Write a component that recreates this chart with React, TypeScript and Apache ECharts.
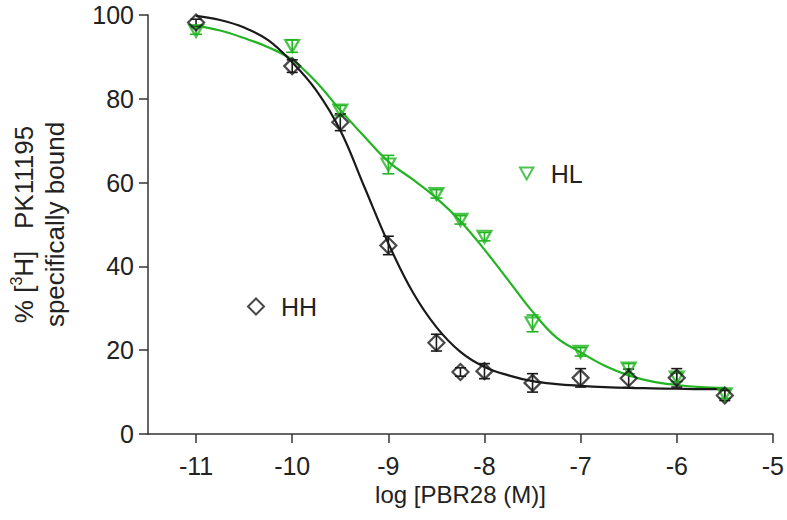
import React, { useEffect, useRef } from "react";
import * as echarts from "echarts";

// measured points (log molar concentration)
const logConc = [-11, -10, -9.5, -9, -8.5, -8.25, -8, -7.5, -7, -6.5, -6, -5.5];
const hhMean = [98.2, 87.8, 74.4, 45.0, 21.8, 14.8, 15.0, 12.2, 13.4, 13.3, 13.4, 9.2];
const hhErr = [0.8, 1.5, 2.0, 2.2, 2.0, 1.0, 1.8, 2.2, 2.2, 2.2, 2.2, 1.2];
const hlMean = [96.2, 92.6, 77.2, 64.3, 57.3, 51.1, 47.1, 26.4, 19.6, 15.6, 13.5, 9.5];
const hlErr = [0.8, 1.5, 1.2, 2.2, 1.0, 1.0, 1.0, 2.0, 1.0, 1.2, 1.0, 1.0];

// fitted curves
const curveX = [-11, -10.75, -10.5, -10.25, -10, -9.75, -9.5, -9.25, -9, -8.75, -8.5, -8.25, -8, -7.75, -7.5, -7.25, -7, -6.75, -6.5, -6.25, -6, -5.75, -5.5];
const hhCurve = [99.8, 98.8, 97.0, 94.0, 88.7, 82.0, 72.5, 59.0, 45.5, 34.0, 25.5, 19.6, 16.0, 14.0, 12.6, 11.9, 11.5, 11.2, 11.0, 10.9, 10.8, 10.7, 10.7];
const hlCurve = [97.4, 96.3, 94.5, 92.3, 89.3, 84.0, 77.3, 71.0, 65.0, 60.8, 56.3, 50.8, 44.0, 36.6, 29.2, 23.0, 19.5, 16.3, 14.0, 12.5, 11.7, 11.2, 11.0];

// axis ticks
const xTicks = [-11, -10, -9, -8, -7, -6, -5];

const BLACK = "#1a1a1a";
const GREEN = "#22b422";
const FONT = "Liberation Sans, Arial, Helvetica, sans-serif";
const TRI = "path://M0,0 L10,0 L5,9 Z";

function errorSeries(name: string, means: number[], errs: number[], color: string, capW: number) {
  return {
    type: "custom",
    name,
    z: 3,
    data: logConc.map((x, i) => [x, means[i] - errs[i], means[i] + errs[i]]),
    renderItem: (params: any, api: any) => {
      const lo = api.coord([api.value(0), api.value(1)]);
      const hi = api.coord([api.value(0), api.value(2)]);
      const st = { stroke: color, lineWidth: 1.6 };
      return {
        type: "group",
        children: [
          { type: "line", shape: { x1: lo[0], y1: lo[1], x2: hi[0], y2: hi[1] }, style: st },
          { type: "line", shape: { x1: lo[0] - capW / 2, y1: lo[1], x2: lo[0] + capW / 2, y2: lo[1] }, style: st },
          { type: "line", shape: { x1: hi[0] - capW / 2, y1: hi[1], x2: hi[0] + capW / 2, y2: hi[1] }, style: st },
        ],
      };
    },
  };
}

export default function App() {
  const ref = useRef<HTMLDivElement>(null);
  useEffect(() => {
    if (!ref.current) return;
    const chart = echarts.init(ref.current, undefined, { renderer: "svg" });
    chart.setOption({
      animation: false,
      backgroundColor: "#ffffff",
      textStyle: { fontFamily: FONT },
      grid: { left: 148, right: 12, top: 15, bottom: 86 },
      legend: [
        {
          data: ["HL"],
          left: 514,
          top: 156,
          itemWidth: 14,
          itemHeight: 12,
          textStyle: { fontSize: 25, color: "#222", fontFamily: FONT, padding: [0, 0, 0, 12] },
        },
        {
          data: ["HH"],
          left: 242,
          top: 289,
          itemWidth: 16,
          itemHeight: 16,
          textStyle: { fontSize: 25, color: "#222", fontFamily: FONT, padding: [0, 0, 0, 12] },
        },
      ],
      xAxis: {
        type: "value",
        min: -11.5,
        max: -5,
        name: "log [PBR28 (M)]",
        nameLocation: "middle",
        nameGap: 48,
        nameTextStyle: { fontSize: 24, color: "#222", fontFamily: FONT },
        axisLine: { lineStyle: { color: "#333", width: 1.5 } },
        axisTick: { show: true, length: 9, inside: false, customValues: xTicks, lineStyle: { color: "#333", width: 1.5 } },
        axisLabel: { customValues: xTicks, fontSize: 25, color: "#222", margin: 19, fontFamily: FONT },
        splitLine: { show: false },
      },
      yAxis: {
        type: "value",
        min: 0,
        max: 100,
        interval: 20,
        name: "{a|% [}{s|3}{a|H]   PK11195}\n{a|specifically bound}",
        nameLocation: "middle",
        nameRotate: 90,
        nameGap: 78,
        nameTextStyle: {
          color: "#222",
          fontFamily: FONT,
          lineHeight: 31,
          rich: {
            a: { fontSize: 26, color: "#222", fontFamily: FONT, lineHeight: 31 },
            s: { fontSize: 16, color: "#222", fontFamily: FONT, verticalAlign: "top", lineHeight: 31, padding: [0, 0, 10, 0] },
          },
        },
        axisLine: { show: true, lineStyle: { color: "#333", width: 1.5 } },
        axisTick: { show: true, length: 9, inside: false, lineStyle: { color: "#333", width: 1.5 } },
        axisLabel: { fontSize: 25, color: "#222", margin: 14, fontFamily: FONT },
        splitLine: { show: false },
      },
      series: [
        {
          type: "line",
          name: "HL fit",
          data: curveX.map((x, i) => [x, hlCurve[i]]),
          smooth: 0.4,
          showSymbol: false,
          symbol: "none",
          lineStyle: { color: GREEN, width: 2.2 },
          z: 2,
        },
        {
          type: "line",
          name: "HH fit",
          data: curveX.map((x, i) => [x, hhCurve[i]]),
          smooth: 0.4,
          showSymbol: false,
          symbol: "none",
          lineStyle: { color: BLACK, width: 2.2 },
          z: 2,
        },
        errorSeries("HL err", hlMean, hlErr, GREEN, 12),
        errorSeries("HH err", hhMean, hhErr, BLACK, 11),
        {
          type: "scatter",
          name: "HL",
          data: logConc.map((x, i) => [x, hlMean[i]]),
          symbol: TRI,
          symbolSize: [14, 12],
          itemStyle: { color: "rgba(255,255,255,0)", borderColor: GREEN, borderWidth: 2.2 },
          z: 4,
        },
        {
          type: "scatter",
          name: "HH",
          data: logConc.map((x, i) => [x, hhMean[i]]),
          symbol: "diamond",
          symbolSize: 16,
          itemStyle: { color: "rgba(255,255,255,0)", borderColor: BLACK, borderWidth: 2.2 },
          z: 5,
        },
      ],
    });
    return () => chart.dispose();
  }, []);
  return <div ref={ref} style={{ width: 787, height: 520, position: "fixed", left: 0, top: 0 }} />;
}
